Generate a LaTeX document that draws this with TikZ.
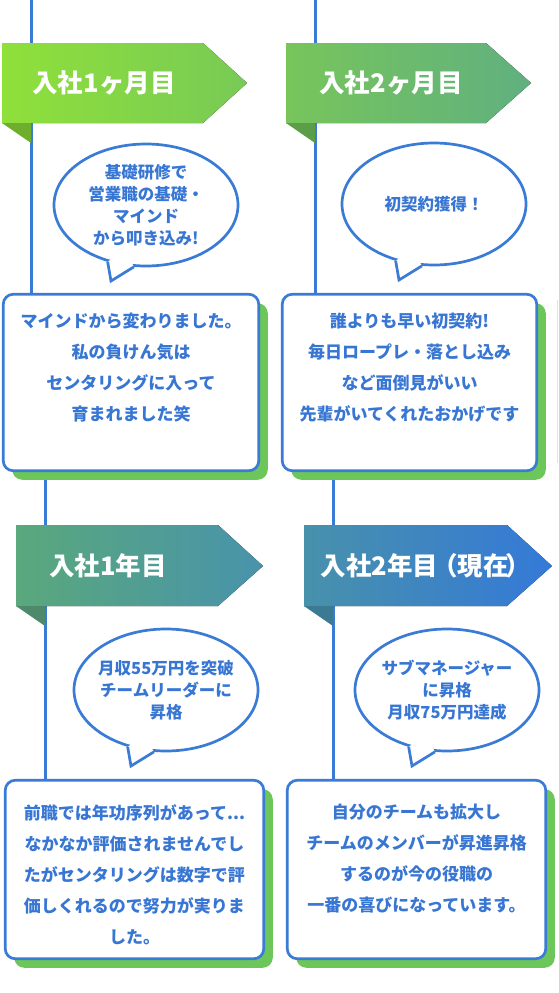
\documentclass[tikz,border=0pt]{standalone}
\usepackage{fontspec}
\setmainfont{Noto Sans CJK JP}
\usetikzlibrary{shapes.geometric, shadows, positioning, calc, backgrounds}

\definecolor{tlblue}{HTML}{3A7BD5}
\definecolor{txtblue}{HTML}{3876D3}
\definecolor{shgreen}{HTML}{6CC65A}
\definecolor{tabAl}{HTML}{8FE03A}
\definecolor{tabAr}{HTML}{78CA56}
\definecolor{tabAd}{HTML}{6DAE2C}
\definecolor{tabBl}{HTML}{77C55B}
\definecolor{tabBr}{HTML}{60B080}
\definecolor{tabBd}{HTML}{5C9E48}
\definecolor{tabCl}{HTML}{5AA87C}
\definecolor{tabCr}{HTML}{4893AB}
\definecolor{tabCd}{HTML}{4D896A}
\definecolor{tabDl}{HTML}{4891AB}
\definecolor{tabDr}{HTML}{3479D8}
\definecolor{tabDd}{HTML}{3C7A94}
\definecolor{edgegrey}{HTML}{DCE5EF}

\begin{document}
\begin{tikzpicture}[
  x=1pt, y=-1pt,
  font=\bfseries,
  tline/.style={draw=tlblue, line width=3pt},
  tabtxt/.style={text=white, inner sep=0pt, font=\bfseries\fontsize{25.5}{29}\selectfont},
  bubble/.style={ellipse, draw=tlblue, line width=2.7pt, fill=white,
                 minimum width=184pt, minimum height=122pt, inner sep=0pt},
  bubtxt/.style={text=txtblue, align=center, inner sep=0pt,
                 font=\bfseries\fontsize{16.5}{22}\selectfont},
  card/.style={rectangle, rounded corners=10pt, draw=tlblue, line width=2.7pt,
               fill=white, minimum height=176.5pt, inner sep=0pt,
               drop shadow={shadow xshift=9pt, shadow yshift=-9pt,
                            fill=shgreen, opacity=1}},
  cardtxt/.style={text=txtblue, align=center, inner sep=0pt,
                  font=\bfseries\fontsize{17}{31}\selectfont},
]
\useasboundingbox (0,0) rectangle (558,993);

% cards
\node (card1) [card, minimum width=255.5pt] at (131,382.5) {};
\node (card2) [card, minimum width=254.5pt] at (409.5,382.5) {};
\node (card3) [card, minimum width=258.5pt, minimum height=178.5pt] at (134.5,869.5) {};
\node (card4) [card, minimum width=258.5pt, minimum height=178.5pt] at (416.5,869.5) {};
\node (note1) [cardtxt, below=20pt of card1.north]
  {マインドから変わりました。\\私の負けん気は\\センタリングに入って\\育まれました笑};
\node (note2) [cardtxt, below=20pt of card2.north]
  {誰よりも早い初契約!\\毎日ロープレ・落とし込み\\など面倒見がいい\\先輩がいてくれたおかげです};
\node (note3) [cardtxt, below=25pt of card3.north]
  {前職では年功序列があって...\\なかなか評価されませんでし\\たがセンタリングは数字で評\\価しくれるので努力が実りま\\した。};
\node (note4) [cardtxt, below=25pt of card4.north]
  {自分のチームも拡大し\\チームのメンバーが昇進昇格\\するのが今の役職の\\一番の喜びになっています。};

% timeline rails, behind everything
\coordinate (top1) at (31,0);
\coordinate (top2) at (315,0);
\coordinate (mid1) at (45,0);
\coordinate (mid2) at (333,0);
\begin{scope}[on background layer]
  \fill[white] (0,0) rectangle (558,993);
  \draw[tline] (top1) -- (top1 |- card1.north);
  \draw[tline] (top2) -- (top2 |- card2.north);
  \draw[tline] (card1.south -| mid1) -- (mid1 |- card3.north);
  \draw[tline] (card2.south -| mid2) -- (mid2 |- card4.north);
\end{scope}

% tabs
\fill[left color=tabAl, right color=tabAr] (2,43) -- (203,43) -- (247,83) -- (203,123) -- (2,123) -- cycle;
\fill[tabAd] (2,123) -- (31,143) -- (31,123) -- cycle;
\fill[left color=tabBl, right color=tabBr] (286,43) -- (486,43) -- (531,83) -- (486,123) -- (286,123) -- cycle;
\fill[tabBd] (286,123) -- (315,143) -- (315,123) -- cycle;
\fill[left color=tabCl, right color=tabCr] (16,525) -- (218,525) -- (263,566) -- (218,606) -- (16,606) -- cycle;
\fill[tabCd] (16,606) -- (45,626) -- (45,606) -- cycle;
\fill[left color=tabDl, right color=tabDr] (304,525) -- (507,525) -- (552,566) -- (507,606) -- (304,606) -- cycle;
\fill[tabDd] (304,606) -- (333,626) -- (333,606) -- cycle;
\node (tab1) [tabtxt] at (104,83) {入社1ヶ月目};
\node (tab2) [tabtxt] at (391,83) {入社2ヶ月目};
\node (tab3) [tabtxt] at (108,566) {入社1年目};
\node (tab4) [tabtxt] at (426,566) {入社2年目\kern-6pt（現在\kern-3pt）};

% speech bubbles
\node (bub1) [bubble] at (146,205) {};
\node (bub2) [bubble] at (434,204) {};
\node (bub3) [bubble] at (166,690) {};
\node (bub4) [bubble] at (447,690) {};
\foreach \b in {bub1,bub2,bub3,bub4} {
  \fill[white] (\b.236) -- ($(\b.center)+(-35,76)$) -- (\b.259)
    -- ($(\b.center)+(-22,45)$) -- cycle;
  \draw[tline, line width=2.7pt] (\b.236) -- ($(\b.center)+(-35,76)$) -- (\b.259);
}
\node (say1) [bubtxt] at (bub1) {基礎研修で\\営業職の基礎・\\マインド\\から叩き込み!};
\node (say2) [bubtxt] at (bub2) {初契約獲得！};
\node (say3) [bubtxt] at (bub3) {月収55万円を突破\\チームリーダーに\\昇格};
\node (say4) [bubtxt] at (bub4) {サブマネージャー\\に昇格\\月収75万円達成};

% edge of the next card, cut off
\draw[edgegrey, line width=1pt] (557,300) -- (557,463);
\end{tikzpicture}
\end{document}
